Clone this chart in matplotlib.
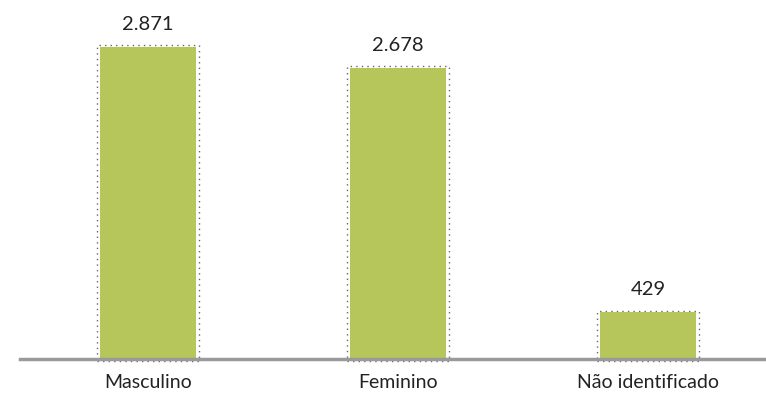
import matplotlib.pyplot as plt
from matplotlib.patches import Rectangle

categories = ["Masculino", "Feminino", "Não identificado"]
values = [2871, 2678, 429]
labels = ["2.871", "2.678", "429"]

plt.rcParams['font.family'] = ['Lato', 'DejaVu Sans']

fig = plt.figure(figsize=(7.66, 4.04), dpi=100)
ax = fig.add_axes([20 / 766, 45 / 404, 746 / 766, 359 / 404])

x = list(range(len(categories)))
width = 0.384
bars = ax.bar(x, values, width=width, color='#b6c65b', zorder=2)

# dotted selection frames around each bar (as in the source image)
for xi, v in zip(x, values):
    ax.add_patch(Rectangle((xi - width / 2 - 0.012, -15), width + 0.024, v + 30,
                           fill=False, linestyle=(0, (1, 3)), edgecolor='#666666',
                           linewidth=1.0, zorder=1, clip_on=False))

for xi, v, lab in zip(x, values, labels):
    ax.text(xi, v + 130, lab, ha='center', va='bottom', fontsize=14.5, color='#222222')

ax.axhline(0, color='#9a9a9a', linewidth=2.5, zorder=3, clip_on=False)

ax.set_xlim(-0.512, 2.472)
ax.set_ylim(0, 3302)
ax.set_xticks(x)
ax.set_xticklabels(categories, fontsize=14, color='#222222')
ax.tick_params(axis='x', length=0, pad=11)
ax.set_yticks([])
for s in ax.spines.values():
    s.set_visible(False)

fig.savefig("out.png", dpi=100)
